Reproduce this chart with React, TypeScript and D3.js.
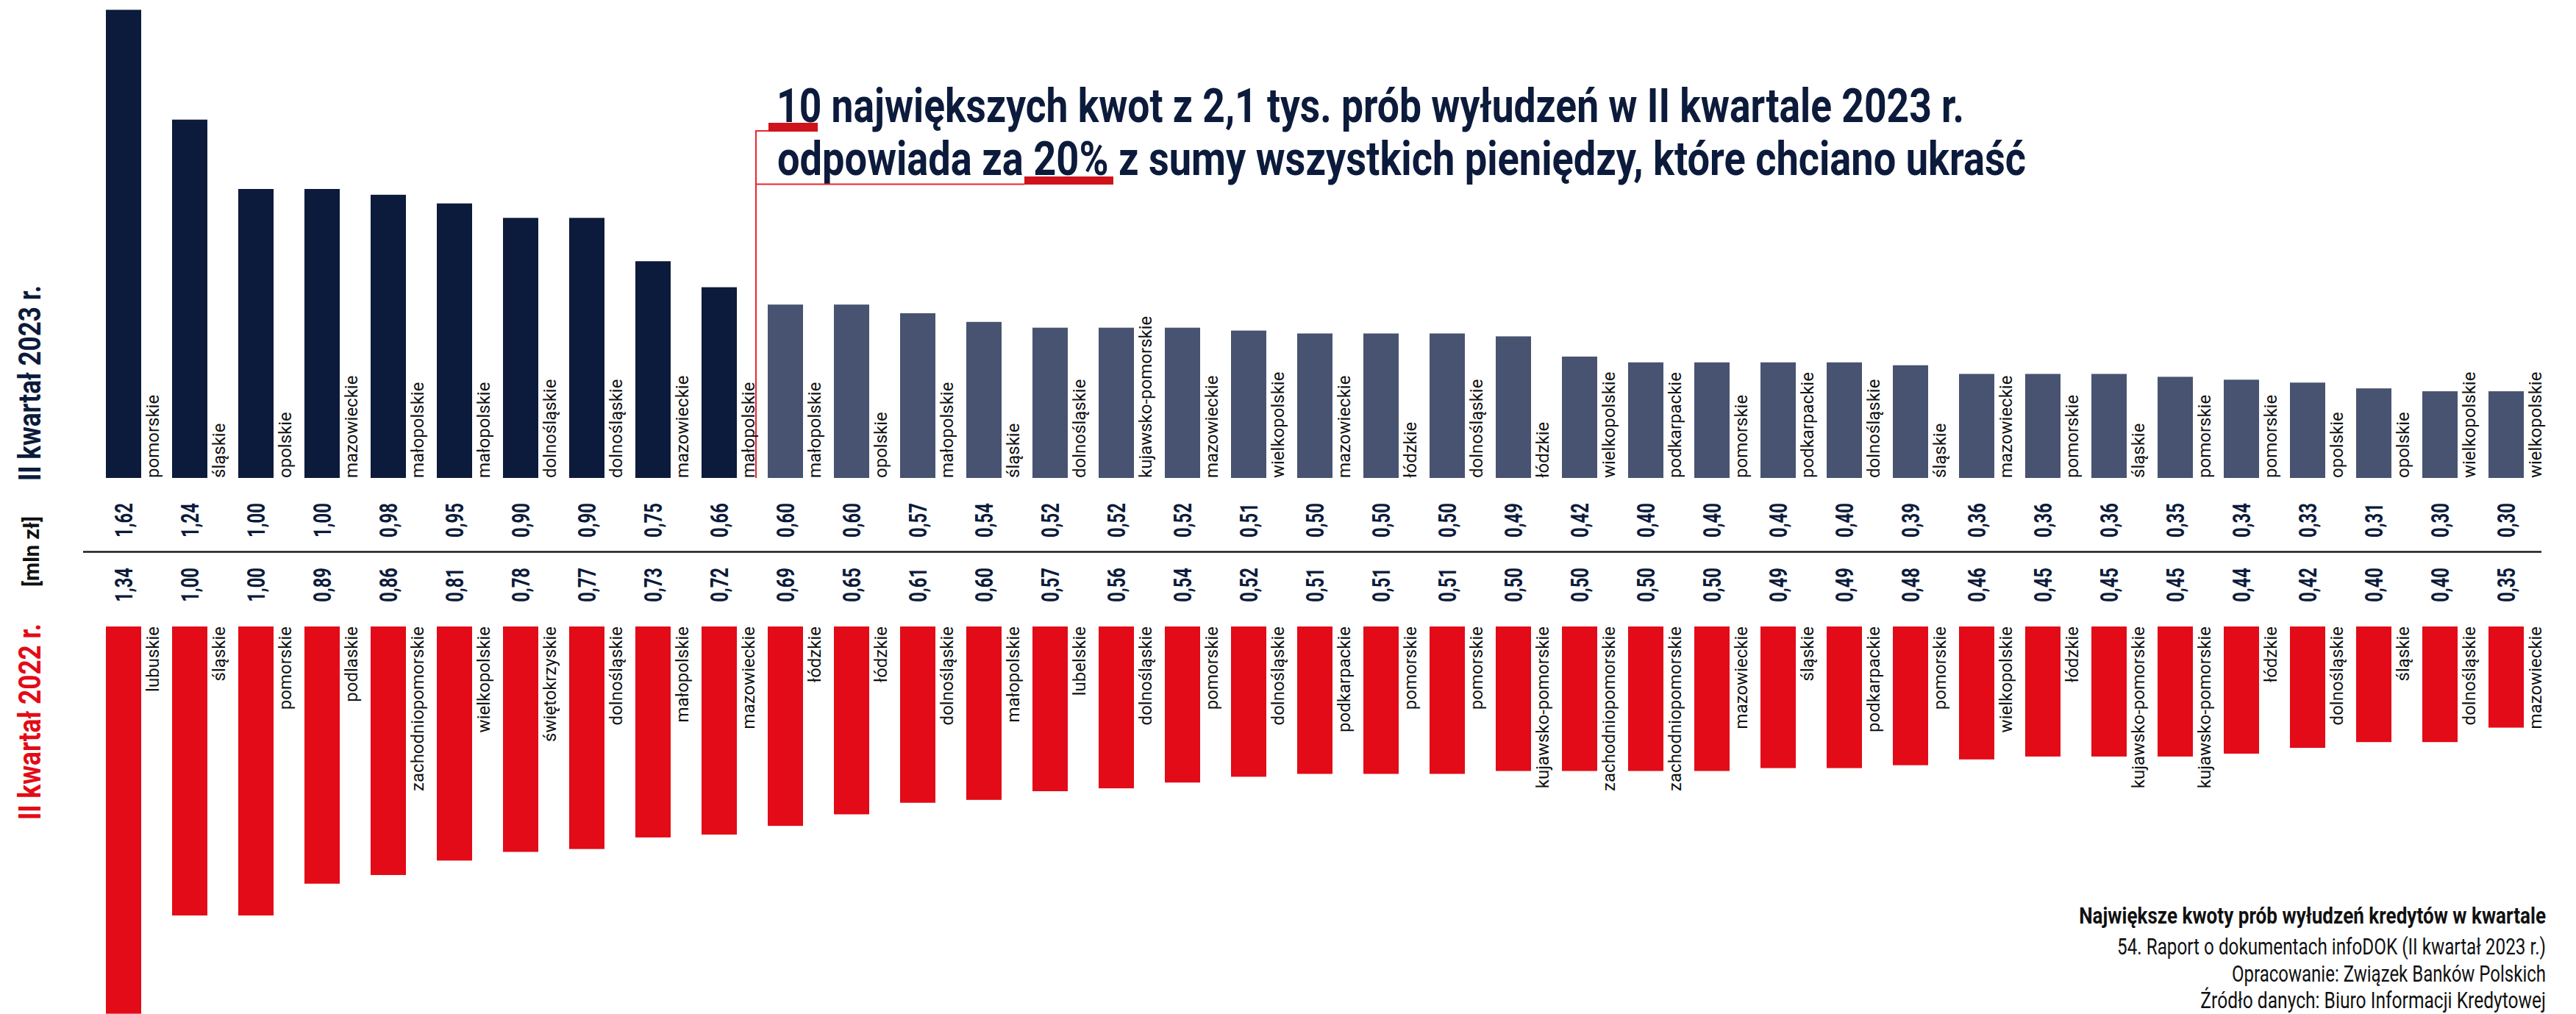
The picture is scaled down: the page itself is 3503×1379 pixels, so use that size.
import React, { useLayoutEffect, useRef, useState } from "react";
import * as d3 from "d3";

// II kwartał 2023 r. – 37 largest attempted amounts [mln zł]
const regions2023 = [
  "pomorskie", "śląskie", "opolskie", "mazowieckie", "małopolskie", "małopolskie",
  "dolnośląskie", "dolnośląskie", "mazowieckie", "małopolskie", "małopolskie", "opolskie",
  "małopolskie", "śląskie", "dolnośląskie", "kujawsko-pomorskie", "mazowieckie", "wielkopolskie",
  "mazowieckie", "łódzkie", "dolnośląskie", "łódzkie", "wielkopolskie", "podkarpackie",
  "pomorskie", "podkarpackie", "dolnośląskie", "śląskie", "mazowieckie", "pomorskie",
  "śląskie", "pomorskie", "pomorskie", "opolskie", "opolskie", "wielkopolskie", "wielkopolskie",
];
const values2023 = [
  1.62, 1.24, 1.0, 1.0, 0.98, 0.95, 0.9, 0.9, 0.75, 0.66, 0.6, 0.6, 0.57, 0.54, 0.52, 0.52,
  0.52, 0.51, 0.5, 0.5, 0.5, 0.49, 0.42, 0.4, 0.4, 0.4, 0.4, 0.39, 0.36, 0.36, 0.36, 0.35,
  0.34, 0.33, 0.31, 0.3, 0.3,
];

// II kwartał 2022 r.
const regions2022 = [
  "lubuskie", "śląskie", "pomorskie", "podlaskie", "zachodniopomorskie", "wielkopolskie",
  "świętokrzyskie", "dolnośląskie", "małopolskie", "mazowieckie", "łódzkie", "łódzkie",
  "dolnośląskie", "małopolskie", "lubelskie", "dolnośląskie", "pomorskie", "dolnośląskie",
  "podkarpackie", "pomorskie", "pomorskie", "kujawsko-pomorskie", "zachodniopomorskie",
  "zachodniopomorskie", "mazowieckie", "śląskie", "podkarpackie", "pomorskie", "wielkopolskie",
  "łódzkie", "kujawsko-pomorskie", "kujawsko-pomorskie", "łódzkie", "dolnośląskie", "śląskie",
  "dolnośląskie", "mazowieckie",
];
const values2022 = [
  1.34, 1.0, 1.0, 0.89, 0.86, 0.81, 0.78, 0.77, 0.73, 0.72, 0.69, 0.65, 0.61, 0.6, 0.57, 0.56,
  0.54, 0.52, 0.51, 0.51, 0.51, 0.5, 0.5, 0.5, 0.5, 0.49, 0.49, 0.48, 0.46, 0.45, 0.45, 0.45,
  0.44, 0.42, 0.4, 0.4, 0.35,
];

const TOP_N = 10;

const titleLines = [
  "10 największych kwot z 2,1 tys. prób wyłudzeń w II kwartale 2023 r.",
  "odpowiada za 20% z sumy wszystkich pieniędzy, które chciano ukraść",
];
const sourceLines = [
  "Największe kwoty prób wyłudzeń kredytów w kwartale",
  "54. Raport o dokumentach infoDOK (II kwartał 2023 r.)",
  "Opracowanie: Związek Banków Polskich",
  "Źródło danych: Biuro Informacji Kredytowej",
];
// widths the source lines take in the reference
const sourceWidths = [635, 583, 427, 470];

const W = 3503;
const H = 1379;
const NAVY = "#0c1b3b";
const SLATE = "#475370";
const RED = "#e20b17";
const FONT = "Roboto, 'Noto Sans', sans-serif";

const TOP_BASE = 650;
const BOTTOM_BASE = 852;
const PX_PER_MLN = 393;

const plFormat = d3.formatLocale({
  decimal: ",",
  thousands: " ",
  grouping: [3],
  currency: ["", " zł"],
}).format(".2f");

// right-aligned text squeezed horizontally to a given width
function FitText({ x, y, width, children, ...rest }: any) {
  const ref = useRef<SVGTextElement>(null);
  const [sx, setSx] = useState(1);
  useLayoutEffect(() => {
    if (!ref.current) return;
    const natural = ref.current.getComputedTextLength();
    if (natural > 0) setSx(width / natural);
  }, [width, children]);
  return (
    <text ref={ref} transform={`translate(${x},${y}) scale(${sx},1)`} textAnchor="end" {...rest}>
      {children}
    </text>
  );
}

export default function App() {
  const idx = d3.range(values2023.length);

  const x = d3
    .scaleBand<number>()
    .domain(idx)
    .range([144, 144 + 37 * 90 - 42])
    .paddingInner(42 / 90)
    .paddingOuter(0);

  const yTop = d3
    .scaleLinear()
    .domain([0, 1])
    .range([TOP_BASE, TOP_BASE - PX_PER_MLN]);
  const yBottom = d3
    .scaleLinear()
    .domain([0, 1])
    .range([BOTTOM_BASE, BOTTOM_BASE + PX_PER_MLN]);

  const bw = x.bandwidth();

  return (
    <svg
      width={W}
      height={H}
      viewBox={`0 0 ${W} ${H}`}
      style={{ position: "absolute", left: 0, top: 0, background: "#fff" }}
      fontFamily={FONT}
    >
      <rect width={W} height={H} fill="#fff" />

      {/* title */}
      <text x={1056} y={166} fontSize={64} fontWeight={700} fill={NAVY}
        textLength={1615} lengthAdjust="spacingAndGlyphs">
        {titleLines[0]}
      </text>
      <text x={1057} y={238} fontSize={64} fontWeight={700} fill={NAVY}
        textLength={1698} lengthAdjust="spacingAndGlyphs">
        {titleLines[1]}
      </text>
      <rect x={1045} y={167} width={67} height={12} fill="#d0121a" />
      <rect x={1393} y={240} width={121} height={11} fill="#d0121a" />
      <path
        d={`M1045,178 H1028 V${TOP_BASE} M1028,250.5 H1393`}
        fill="none"
        stroke="#e8262d"
        strokeWidth={2}
      />

      {/* 2023 bars */}
      {idx.map((i) => (
        <rect
          key={`t${i}`}
          x={x(i)}
          y={yTop(values2023[i])}
          width={bw}
          height={TOP_BASE - yTop(values2023[i])}
          fill={i < TOP_N ? NAVY : SLATE}
        />
      ))}
      {idx.map((i) => (
        <text
          key={`tl${i}`}
          transform={`translate(${(x(i) as number) + bw + 24},${TOP_BASE}) rotate(-90)`}
          fontSize={24}
          fill="#111"
        >
          {regions2023[i]}
        </text>
      ))}

      {/* value rows */}
      {idx.map((i) => (
        <text
          key={`tv${i}`}
          transform={`translate(${(x(i) as number) + bw / 2 + 12},731) rotate(-90) scale(0.7,1)`}
          fontSize={34}
          fontWeight={700}
          fill={NAVY}
        >
          {plFormat(values2023[i])}
        </text>
      ))}
      <line x1={113} x2={3456} y1={750.5} y2={750.5} stroke="#1a1a1a" strokeWidth={2.5} />
      {idx.map((i) => (
        <text
          key={`bv${i}`}
          transform={`translate(${(x(i) as number) + bw / 2 + 12},772) rotate(-90) scale(0.7,1)`}
          textAnchor="end"
          fontSize={34}
          fontWeight={700}
          fill={NAVY}
        >
          {plFormat(values2022[i])}
        </text>
      ))}

      {/* 2022 bars */}
      {idx.map((i) => (
        <rect
          key={`b${i}`}
          x={x(i)}
          y={BOTTOM_BASE}
          width={bw}
          height={yBottom(values2022[i]) - BOTTOM_BASE}
          fill={RED}
        />
      ))}
      {idx.map((i) => (
        <text
          key={`bl${i}`}
          transform={`translate(${(x(i) as number) + bw + 24},${BOTTOM_BASE}) rotate(-90)`}
          textAnchor="end"
          fontSize={24}
          fill="#111"
        >
          {regions2022[i]}
        </text>
      ))}

      {/* side labels */}
      <text transform="translate(55,654) rotate(-90)" fontSize={42} fontWeight={700}
        fill={NAVY} textLength={266} lengthAdjust="spacingAndGlyphs">
        II kwartał 2023 r.
      </text>
      <text transform="translate(53,750) rotate(-90)" textAnchor="middle" fontSize={29}
        fontWeight={700} fill="#111">
        [mln zł]
      </text>
      <text transform="translate(55,1115) rotate(-90)" fontSize={42} fontWeight={700}
        fill={RED} textLength={267} lengthAdjust="spacingAndGlyphs">
        II kwartał 2022 r.
      </text>

      {/* source */}
      {sourceLines.map((s, i) => (
        <FitText
          key={`s${i}`}
          x={3462}
          y={[1256, 1298, 1335, 1371][i]}
          width={sourceWidths[i]}
          fontSize={i === 0 ? 32 : 31}
          fontWeight={i === 0 ? 700 : 400}
          fill="#111"
        >
          {s}
        </FitText>
      ))}
    </svg>
  );
}
